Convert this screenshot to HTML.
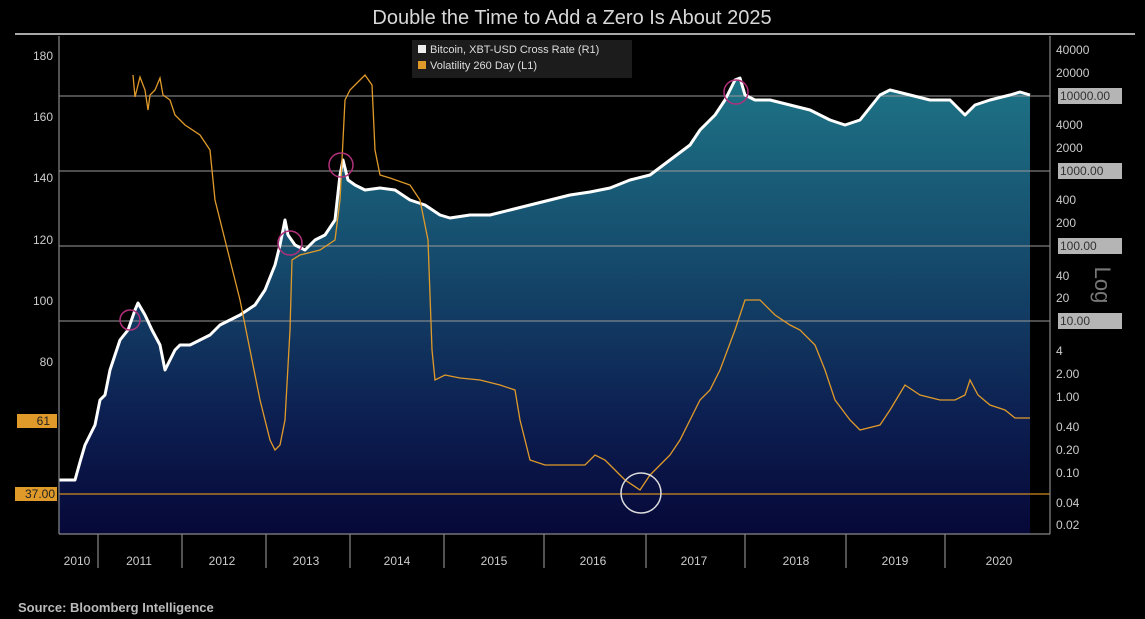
<!DOCTYPE html>
<html><head><meta charset="utf-8"><style>
html,body{margin:0;padding:0;background:#000;}
svg{display:block;font-family:"Liberation Sans",sans-serif;}
</style></head><body>
<svg width="1145" height="619" viewBox="0 0 1145 619" xmlns="http://www.w3.org/2000/svg">
<defs>
<linearGradient id="g" gradientUnits="userSpaceOnUse" x1="0" y1="80" x2="0" y2="534">
<stop offset="0" stop-color="#1e7386"/><stop offset="0.4" stop-color="#154a6c"/><stop offset="0.75" stop-color="#0c1e50"/><stop offset="1" stop-color="#060838"/>
</linearGradient>
</defs>
<rect width="1145" height="619" fill="#000"/>
<text x="572" y="24" text-anchor="middle" font-size="20" fill="#d8d8d8">Double the Time to Add a Zero Is About 2025</text>
<line x1="15" y1="34" x2="1135" y2="34" stroke="#e0e0e0" stroke-width="1.5"/>
<polygon fill="url(#g)" points="59,480 75,480 80,462 85,445 95,425 100,400 105,395 110,370 120,340 128,330 135,310 138,303 145,315 152,330 160,345 165,370 170,360 175,350 180,345 190,345 200,340 210,335 220,325 230,320 240,315 255,305 265,290 275,265 280,245 285,220 288,235 295,245 305,250 315,240 325,235 335,220 340,175 343,160 348,180 355,185 365,190 380,188 395,190 410,200 425,205 440,215 450,218 470,215 490,215 510,210 530,205 550,200 570,195 590,192 610,188 630,180 650,175 670,160 690,145 700,130 715,115 725,100 735,80 740,78 745,95 755,100 770,100 790,105 810,110 830,120 845,125 860,120 880,95 890,90 910,95 930,100 950,100 965,115 975,105 990,100 1010,95 1020,92 1030,95 1030,534 59,534"/>
<g stroke="#9a9a9a" stroke-width="1.2" opacity="0.8">
<line x1="59" y1="96" x2="1050" y2="96"/><line x1="59" y1="171" x2="1050" y2="171"/>
<line x1="59" y1="246" x2="1050" y2="246"/><line x1="59" y1="321" x2="1050" y2="321"/>
</g>
<line x1="59" y1="494" x2="1050" y2="494" stroke="#d08a20" stroke-width="1.2"/>
<polyline fill="none" stroke="#fff" stroke-width="3" stroke-linejoin="round" points="59,480 75,480 80,462 85,445 95,425 100,400 105,395 110,370 120,340 128,330 135,310 138,303 145,315 152,330 160,345 165,370 170,360 175,350 180,345 190,345 200,340 210,335 220,325 230,320 240,315 255,305 265,290 275,265 280,245 285,220 288,235 295,245 305,250 315,240 325,235 335,220 340,175 343,160 348,180 355,185 365,190 380,188 395,190 410,200 425,205 440,215 450,218 470,215 490,215 510,210 530,205 550,200 570,195 590,192 610,188 630,180 650,175 670,160 690,145 700,130 715,115 725,100 735,80 740,78 745,95 755,100 770,100 790,105 810,110 830,120 845,125 860,120 880,95 890,90 910,95 930,100 950,100 965,115 975,105 990,100 1010,95 1020,92 1030,95"/>
<polyline fill="none" stroke="#e09a2a" stroke-width="1.3" points="133,75 135,97 140,77 145,90 148,110 150,95 155,90 160,78 163,95 170,100 175,115 185,125 200,135 210,150 215,200 225,240 235,280 240,300 250,350 260,400 270,440 275,450 280,445 285,420 290,330 292,260 300,255 320,250 335,240 340,200 345,100 350,90 360,80 365,75 372,85 375,150 380,175 390,178 410,185 420,200 428,240 432,350 435,380 445,375 460,378 480,380 500,385 515,390 520,420 525,440 530,460 545,465 570,465 585,465 595,455 605,460 615,470 625,480 640,490 650,475 660,465 670,455 680,440 700,400 710,390 720,370 735,330 745,300 760,300 775,315 790,325 800,330 815,345 825,370 835,400 850,420 860,430 880,425 890,410 905,385 920,395 940,400 955,400 965,395 970,380 978,395 990,405 1005,410 1015,418 1030,418"/>
<g fill="none" stroke="#b0307a" stroke-width="1.5">
<circle cx="130" cy="320" r="10"/><circle cx="290" cy="243" r="12"/><circle cx="341" cy="165" r="12"/><circle cx="736" cy="92" r="12"/>
</g>
<circle cx="641" cy="493" r="20" fill="none" stroke="#ddd" stroke-width="1.5"/>
<rect x="412" y="40" width="220" height="38" fill="#1c1c1c"/>
<rect x="418" y="45" width="8" height="8" fill="#eee"/><rect x="418" y="61" width="8" height="8" fill="#e09a2a"/>
<g font-size="11" fill="#ddd"><text x="430" y="53">Bitcoin, XBT-USD Cross Rate  (R1)</text><text x="430" y="69">Volatility 260 Day (L1)</text></g>
<g stroke="#888" stroke-width="1.2"><line x1="59" y1="36" x2="59" y2="534"/><line x1="59" y1="534" x2="1050" y2="534"/><line x1="1050" y1="36" x2="1050" y2="534"/></g>
<g font-size="12" fill="#ccc" text-anchor="end">
<text x="53" y="60">180</text><text x="53" y="121">160</text><text x="53" y="182">140</text><text x="53" y="244">120</text><text x="53" y="305">100</text><text x="53" y="366">80</text>
</g>
<rect x="17" y="414" width="40" height="14" fill="#e09a2a"/><text x="50" y="425" font-size="12" fill="#222" text-anchor="end">61</text>
<rect x="15" y="487" width="42" height="14" fill="#e09a2a"/><text x="55" y="498" font-size="12" fill="#222" text-anchor="end">37.00</text>
<g font-size="12" fill="#ccc">
<text x="1056" y="54">40000</text><text x="1056" y="77">20000</text><text x="1056" y="129">4000</text><text x="1056" y="152">2000</text>
<text x="1056" y="204">400</text><text x="1056" y="227">200</text><text x="1056" y="280">40</text><text x="1056" y="302">20</text>
<text x="1056" y="355">4</text><text x="1056" y="378">2.00</text><text x="1056" y="401">1.00</text><text x="1056" y="431">0.40</text>
<text x="1056" y="454">0.20</text><text x="1056" y="477">0.10</text><text x="1056" y="507">0.04</text><text x="1056" y="529">0.02</text>
</g>
<g fill="#b5b5b5"><rect x="1058" y="88" width="64" height="16"/><rect x="1058" y="163" width="64" height="16"/><rect x="1058" y="238" width="64" height="16"/><rect x="1058" y="313" width="64" height="16"/></g>
<g font-size="12" fill="#333"><text x="1060" y="100">10000.00</text><text x="1060" y="175">1000.00</text><text x="1060" y="250">100.00</text><text x="1060" y="325">10.00</text></g>
<text x="1095" y="285" font-size="22" fill="#777" transform="rotate(90 1095 285)" text-anchor="middle">Log</text>
<g stroke="#888" stroke-width="1.2">
<line x1="98" y1="534" x2="98" y2="568"/><line x1="182" y1="534" x2="182" y2="568"/><line x1="266" y1="534" x2="266" y2="568"/><line x1="350" y1="534" x2="350" y2="568"/><line x1="444" y1="534" x2="444" y2="568"/><line x1="544" y1="534" x2="544" y2="568"/><line x1="646" y1="534" x2="646" y2="568"/><line x1="745" y1="534" x2="745" y2="568"/><line x1="846" y1="534" x2="846" y2="568"/><line x1="945" y1="534" x2="945" y2="568"/>
</g>
<g font-size="12" fill="#ccc" text-anchor="middle">
<text x="77" y="565">2010</text><text x="139" y="565">2011</text><text x="222" y="565">2012</text><text x="306" y="565">2013</text><text x="397" y="565">2014</text><text x="494" y="565">2015</text><text x="593" y="565">2016</text><text x="694" y="565">2017</text><text x="796" y="565">2018</text><text x="895" y="565">2019</text><text x="999" y="565">2020</text>
</g>
<text x="18" y="612" font-size="13" font-weight="bold" fill="#bbb">Source: Bloomberg Intelligence</text>
</svg>
</body></html>
